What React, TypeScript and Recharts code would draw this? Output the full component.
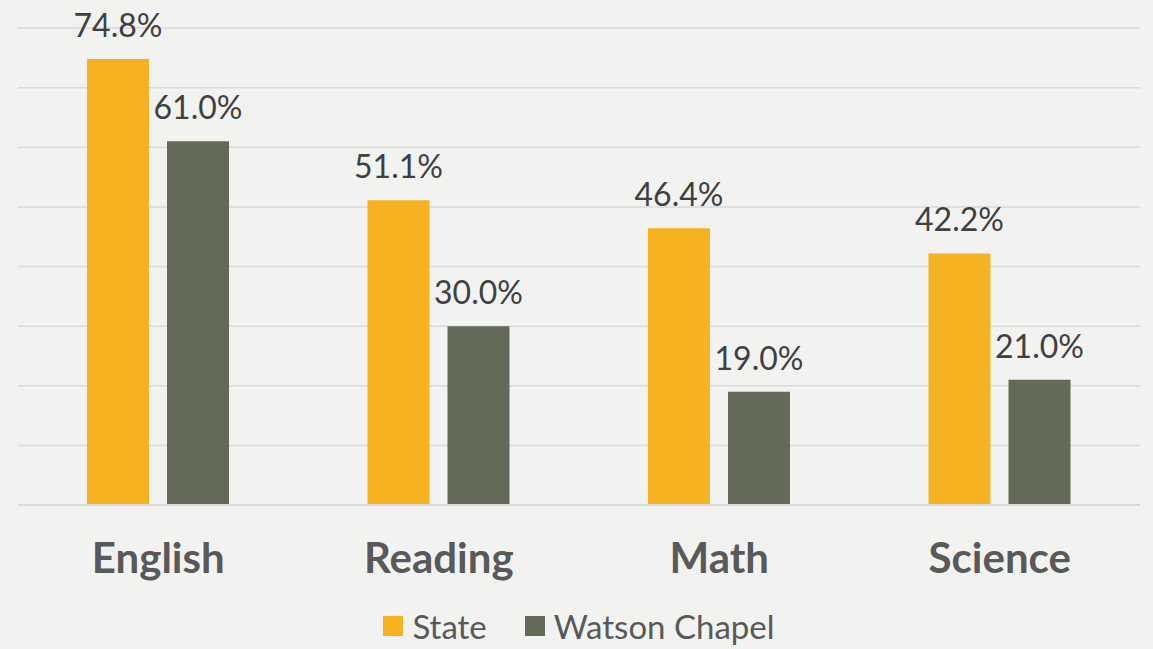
import {
  BarChart,
  Bar,
  XAxis,
  YAxis,
  CartesianGrid,
  Legend,
  LabelList,
} from "recharts";

const subjects = ["English", "Reading", "Math", "Science"];
const stateValues = [74.8, 51.1, 46.4, 42.2];
const watsonValues = [61.0, 30.0, 19.0, 21.0];
const yTicks = [0, 10, 20, 30, 40, 50, 60, 70, 80];

const data = subjects.map((name, i) => ({
  name,
  state: stateValues[i],
  watson: watsonValues[i],
}));

const FONT = "Lato, 'Open Sans', sans-serif";

const SubjectTick = (props: any) => {
  const { x, y, payload } = props;
  return (
    <text
      x={x}
      y={y + 60}
      textAnchor="middle"
      fill="#595959"
      fontSize={42}
      fontWeight={700}
      fontFamily={FONT}
    >
      {payload.value}
    </text>
  );
};

const renderLegend = () => {
  const items = [
    { label: "State", color: "#F6B221" },
    { label: "Watson Chapel", color: "#646A58" },
  ];
  return (
    <div
      style={{
        display: "flex",
        justifyContent: "center",
        alignItems: "center",
        height: 64,
        paddingTop: 18,
        boxSizing: "border-box",
        fontFamily: FONT,
        fontSize: 33,
        color: "#595959",
      }}
    >
      {items.map((it, i) => (
        <div
          key={it.label}
          style={{
            display: "flex",
            alignItems: "center",
            marginLeft: i === 0 ? 0 : 38,
          }}
        >
          <span
            style={{
              width: 20,
              height: 20,
              background: it.color,
              display: "inline-block",
              marginRight: 9,
            }}
          />
          <span>{it.label}</span>
        </div>
      ))}
    </div>
  );
};

export default function App() {
  return (
    <div
      style={{
        position: "absolute",
        left: 0,
        top: 0,
        width: 1153,
        height: 649,
        background: "#F2F2F1",
      }}
    >
      <BarChart
        width={1153}
        height={649}
        data={data}
        margin={{ top: 28, right: 13, bottom: 0, left: 18 }}
        barGap={18}
      >
        <CartesianGrid vertical={false} stroke="#D9D9D9" strokeWidth={1.5} />
        <YAxis hide domain={[0, 80]} ticks={yTicks} />
        <XAxis
          dataKey="name"
          axisLine={{ stroke: "#D9D9D9", strokeWidth: 2 }}
          tickLine={false}
          height={80}
          tick={<SubjectTick />}
          interval={0}
        />
        <Legend
          verticalAlign="bottom"
          height={64}
          content={renderLegend}
        />
        <Bar
          dataKey="state"
          name="State"
          fill="#F6B221"
          barSize={62}
          isAnimationActive={false}
        >
          <LabelList
            dataKey="state"
            position="top"
            offset={22}
            formatter={(v: any) => `${Number(v).toFixed(1)}%`}
            fill="#404040"
            fontSize={32}
            fontFamily={FONT}
          />
        </Bar>
        <Bar
          dataKey="watson"
          name="Watson Chapel"
          fill="#646A58"
          barSize={62}
          isAnimationActive={false}
        >
          <LabelList
            dataKey="watson"
            position="top"
            offset={22}
            formatter={(v: any) => `${Number(v).toFixed(1)}%`}
            fill="#404040"
            fontSize={32}
            fontFamily={FONT}
          />
        </Bar>
      </BarChart>
    </div>
  );
}
